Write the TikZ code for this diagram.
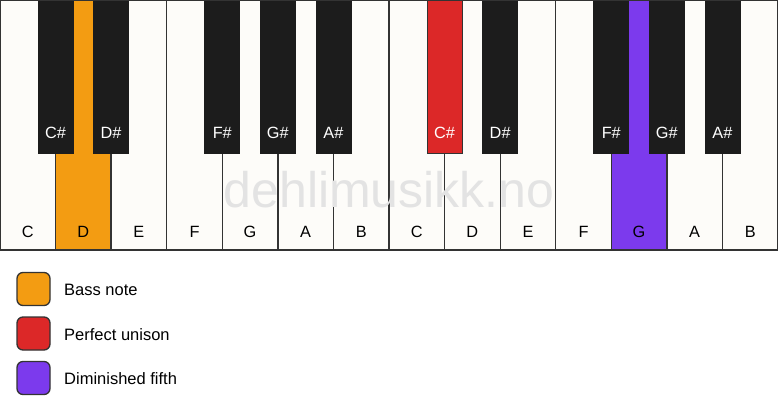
\documentclass[tikz,border=0pt]{standalone}
\usepackage{fontspec}
\setmainfont{Liberation Sans}
\definecolor{keywhite}{HTML}{FDFCF9}
\definecolor{keyblack}{HTML}{1C1C1C}
\definecolor{keyline}{HTML}{333333}
\definecolor{bassorange}{HTML}{F39C12}
\definecolor{unisonred}{HTML}{DC2828}
\definecolor{fifthpurple}{HTML}{7C3AED}
\definecolor{wmgray}{HTML}{E3E3E3}
\tikzset{
  whitekey/.style={draw=keyline, line width=1.3pt, fill=keywhite},
  blackkey/.style={fill=keyblack, draw=keyblack, line width=0.8pt},
  wlabel/.style={anchor=base, font=\fontsize{16.3}{19}\selectfont, text=black, inner sep=0pt},
  blabel/.style={anchor=base, font=\fontsize{16.3}{19}\selectfont, text=white, inner sep=0pt},
  legbox/.style={draw=keyline, line width=1.3pt, rounded corners=6pt, minimum width=33pt, minimum height=33pt, inner sep=0pt},
  legtext/.style={anchor=base west, font=\fontsize{16.5}{19}\selectfont, inner sep=0pt},
}
\begin{document}
\begin{tikzpicture}[x=1pt,y=-1pt]
\useasboundingbox (0,0) rectangle (778,417);
\fill[white] (0,0) rectangle (778,417);
\def\kw{55.5714}
% white keys
\foreach \i/\n in {0/C,1/D,2/E,3/F,4/G,5/A,6/B,7/C,8/D,9/E,10/F,11/G,12/A,13/B}{
  \pgfmathsetmacro{\xa}{\i*\kw}
  \pgfmathsetmacro{\xb}{(\i+1)*\kw}
  \pgfmathsetmacro{\xc}{(\i+0.5)*\kw}
  \ifnum\i=1
    \path[whitekey, fill=bassorange] (\xa,0) rectangle (\xb,250);
  \else\ifnum\i=11
    \path[whitekey, fill=fifthpurple] (\xa,0) rectangle (\xb,250);
  \else
    \path[whitekey] (\xa,0) rectangle (\xb,250);
  \fi\fi
  \node[wlabel] (w\i) at (\xc,237) {\n};
}
% watermark
\node[anchor=base, font=\fontsize{50}{54}\selectfont, text=wmgray, inner sep=0pt] (wm) at (389,207) {dehlimusikk.no};
% black keys
\foreach \k/\n in {1/C\#,2/D\#,4/F\#,5/G\#,6/A\#,8/C\#,9/D\#,11/F\#,12/G\#,13/A\#}{
  \pgfmathsetmacro{\xm}{\k*\kw}
  \ifnum\k=8
    \path[blackkey, fill=unisonred, draw=keyline] (\xm-17.5,0) rectangle (\xm+17.5,153);
  \else
    \path[blackkey] (\xm-17.5,0) rectangle (\xm+17.5,153);
  \fi
  \node[blabel] (b\k) at (\xm,139) {\n};
}
% outer frame
\draw[keyline, line width=1.3pt] (0,0) rectangle (778,250);
% legend
\node[legbox, fill=bassorange] (l1) at (33.5,289) {};
\node[legbox, fill=unisonred] (l2) at (33.5,333.5) {};
\node[legbox, fill=fifthpurple] (l3) at (33.5,378) {};
\node[legtext] (t1) at (64,295.5) {Bass note};
\node[legtext] (t2) at (64,340) {Perfect unison};
\node[legtext] (t3) at (64,384) {Diminished fifth};
\end{tikzpicture}
\end{document}
